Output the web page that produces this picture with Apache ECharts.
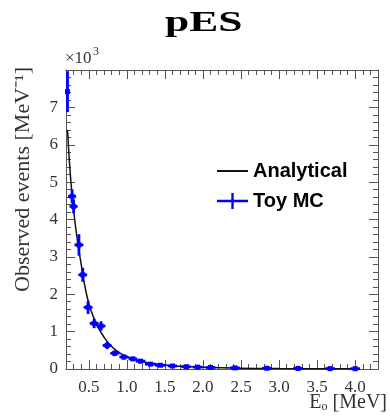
<!DOCTYPE html>
<html><head><meta charset="utf-8">
<script src="https://cdn.jsdelivr.net/npm/echarts@6/dist/echarts.min.js"></script>
<style>html,body{margin:0;padding:0;background:#fff}#c{width:390px;height:419px}</style>
</head><body><div id="c"></div>
<script>
// Analytical curve, units of 10^3 per MeV
const curveX = [0.22,0.25,0.28,0.32,0.36,0.40,0.45,0.50,0.55,0.60,0.70,0.80,0.90,1.00,1.20,1.40,1.60,1.80,2.00,2.50,3.00,3.50,4.00];
const curveY = [6.40,5.40,4.65,3.90,3.30,2.80,2.20,1.75,1.45,1.20,0.85,0.60,0.44,0.33,0.20,0.13,0.09,0.065,0.045,0.022,0.012,0.008,0.005];
// Toy MC points
const mcX    = [0.22,0.28,0.30,0.37,0.42,0.49,0.57,0.66,0.74,0.84,0.96,1.08,1.18,1.31,1.44,1.60,1.78,1.93,2.10,2.42,2.84,3.25,3.67,4.00];
const mcY    = [7.42,4.62,4.35,3.32,2.52,1.65,1.22,1.15,0.63,0.42,0.32,0.27,0.21,0.13,0.10,0.08,0.06,0.05,0.04,0.03,0.02,0.015,0.01,0.008];
const mcXErr = [0.01,0.04,0.04,0.045,0.045,0.045,0.045,0.045,0.045,0.045,0.045,0.045,0.05,0.06,0.06,0.05,0.05,0.05,0.05,0.05,0.05,0.05,0.05,0.05];
const mcYErr = [0.52,0.16,0.16,0.26,0.16,0.15,0.10,0.10,0.07,0.05,0.04,0.03,0.03,0.02,0.02,0.02,0.02,0.01,0.01,0.01,0.01,0.01,0.01,0.01];
const xLabels = [0.5,1.0,1.5,2.0,2.5,3.0,3.5,4.0];
const yLabels = [0,1,2,3,4,5,6,7];

const axisColor = '#555';
const serif = 'Liberation Serif';
const chart = echarts.init(document.getElementById('c'));
const curveData = curveX.map((x,i)=>[x,curveY[i]]);
const mcData = mcX.map((x,i)=>[x,mcY[i],mcXErr[i],mcYErr[i]]);

function xAxisDef(pos, withLabels, major){
  return {
    type:'value', position:pos, min:0.2, max:4.3,
    interval: 0.1,
    axisLine:{show:true, lineStyle:{color:axisColor, width:1}},
    splitLine:{show:false},
    axisTick: major ? {show:true, inside:true, length:9, customValues:xLabels, lineStyle:{color:axisColor}}
                    : {show:true, inside:true, length:5, lineStyle:{color:axisColor}},
    axisLabel: withLabels ? {show:true, customValues:xLabels, formatter:v=>v.toFixed(1), margin:10,
                 fontFamily:serif, fontSize:17, color:'#333'} : {show:false}
  };
}
function yAxisDef(pos, withLabels){
  return {
    type:'value', position:pos, min:0, max:8, interval:1,
    axisLine:{show:true, lineStyle:{color:axisColor}},
    splitLine:{show:false},
    axisTick:{show:true, inside:true, length:9, lineStyle:{color:axisColor}},
    minorTick:{show:true, splitNumber:5, length:5, lineStyle:{color:axisColor}},
    axisLabel: withLabels ? {show:true, margin:8, fontFamily:serif, fontSize:17, color:'#333',
      formatter:v=> yLabels.indexOf(v)>=0 ? String(v) : ''} : {show:false},
    name: withLabels ? 'Observed events [MeV\u207B\u00B9]' : '',
    nameLocation:'middle', nameGap:32,
    nameTextStyle:{fontFamily:serif, fontSize:22, color:'#333', padding:[0,0,0,80]}
  };
}

chart.setOption({
  animation:false,
  grid:{left:66, right:12, top:70, bottom:50, containLabel:false, outerBoundsMode:'none'},
  xAxis:[xAxisDef('bottom',true,true), xAxisDef('bottom',false,false), xAxisDef('top',false,true), xAxisDef('top',false,false)],
  yAxis:[yAxisDef('left',true), yAxisDef('right',false)],
  legend:{
    orient:'vertical', left:217, top:161, padding:0, itemWidth:31, itemHeight:16, itemGap:10,
    textStyle:{fontFamily:'Liberation Sans', fontWeight:'bold', fontSize:20, lineHeight:18, color:'#000'},
    data:[
      {name:'Analytical', icon:'path://M0,7H31V9H0Z'},
      {name:'Toy MC', icon:'path://M0,6.8H31V9.2H0Z M14.3,0H16.7V16H14.3Z', itemStyle:{color:'#0000ff'}}
    ]
  },
  graphic:[
    {type:'text', x:165, y:9, scaleX:1.5, style:{text:'pES', fontFamily:serif, fontWeight:'bold', fontSize:29, fill:'#000', textVerticalAlign:'top'}},
    {type:'text', x:65, y:50, style:{text:'\u00D710', fontFamily:serif, fontSize:17, fill:'#333', textVerticalAlign:'top'}},
    {type:'text', x:93, y:46, style:{text:'3', fontFamily:serif, fontSize:12, fill:'#333', textVerticalAlign:'top'}},
    {type:'text', x:387, y:393, style:{text:'{e|E}{s|o}{e| [MeV]}', align:'right', verticalAlign:'top',
      rich:{e:{fontFamily:serif, fontSize:20, fill:'#333', color:'#333'}, s:{fontFamily:serif, fontSize:12, fill:'#333', color:'#333', padding:[8,0,0,0]}}}}
  ],
  series:[
    {name:'Analytical', type:'line', data:curveData, smooth:true, symbol:'none', showSymbol:false,
     lineStyle:{color:'#111', width:1.5}, itemStyle:{color:'#111'}, xAxisIndex:0, yAxisIndex:0, z:3},
    {name:'Toy MC', type:'custom', data:mcData, xAxisIndex:0, yAxisIndex:0, z:4,
     itemStyle:{color:'#0000ff'},
     encode:{x:0, y:1},
     renderItem:function(params, api){
       const x=api.value(0), y=api.value(1), ex=api.value(2), ey=api.value(3);
       const a=api.coord([x-ex,y]), b=api.coord([x+ex,y]);
       const c=api.coord([x,Math.max(0,y-ey)]), d=api.coord([x,y+ey]);
       const m=api.coord([x,y]);
       const st={stroke:'#0000ff', lineWidth:2.8};
       return {type:'group', children:[
         {type:'line', shape:{x1:a[0]-1,y1:a[1],x2:b[0]+1,y2:b[1]}, style:st},
         {type:'line', shape:{x1:c[0],y1:c[1]+1,x2:d[0],y2:d[1]-1}, style:st},
         {type:'rect', shape:{x:m[0]-2.5,y:m[1]-2.5,width:5,height:5}, style:{fill:'#0000ff'}}
       ]};
     }}
  ]
});
</script></body></html>
